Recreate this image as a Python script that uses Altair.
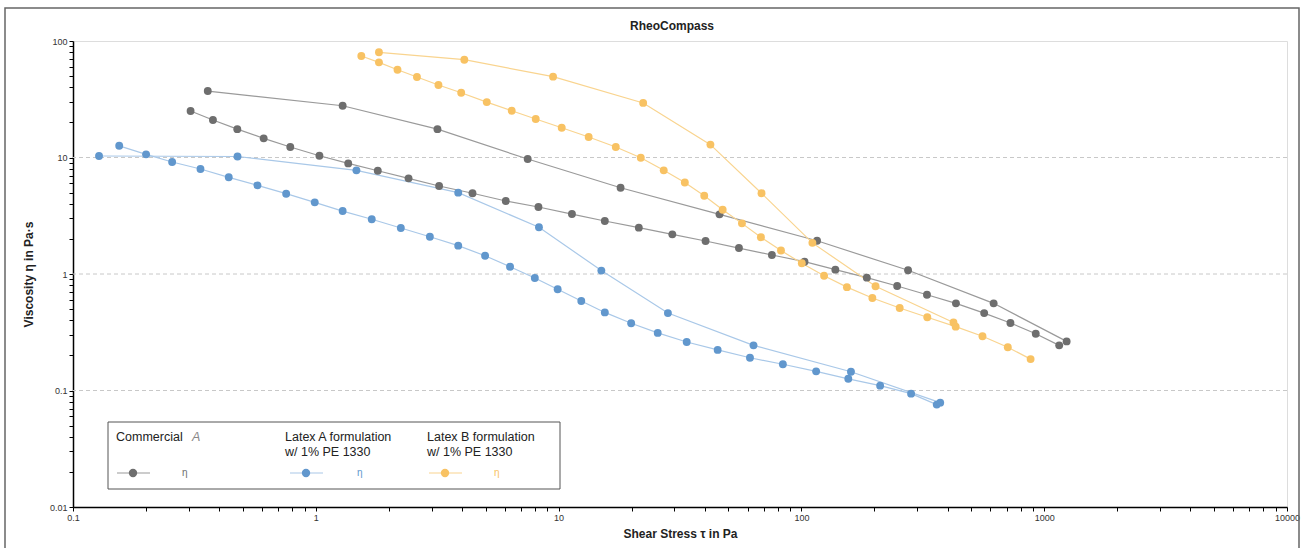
import altair as alt
import pandas as pd

# ---------------- data ----------------
# Commercial A
ca_main_x = [0.305, 0.377, 0.475, 0.61, 0.785, 1.035, 1.36, 1.8, 2.41, 3.22, 4.42, 6.06, 8.26, 11.35, 15.5,
             21.4, 29.4, 40.3, 55.3, 75.6, 103, 138, 186, 248, 329, 433, 566, 726, 923, 1153]
ca_main_y = [25.1, 21.0, 17.5, 14.6, 12.3, 10.35, 8.9, 7.7, 6.62, 5.69, 4.93, 4.23, 3.76, 3.27, 2.85,
             2.50, 2.19, 1.92, 1.67, 1.455, 1.275, 1.09, 0.93, 0.789, 0.664, 0.56, 0.462, 0.38, 0.307, 0.244]
ca_sec_x = [0.359, 1.29, 3.17, 7.46, 18.0, 46.0, 116, 275, 619, 1237]
ca_sec_y = [37.2, 27.8, 17.5, 9.7, 5.5, 3.25, 1.93, 1.076, 0.56, 0.264]

# Latex A formulation w/ 1% PE 1330
la_main_x = [0.155, 0.200, 0.256, 0.335, 0.438, 0.575, 0.755, 0.99, 1.29, 1.70, 2.24, 2.95, 3.86, 4.98, 6.31,
             7.98, 9.91, 12.4, 15.5, 19.9, 25.6, 33.7, 45.2, 61.4, 83.9, 115, 156, 211, 283, 361]
la_main_y = [12.6, 10.65, 9.15, 7.97, 6.76, 5.77, 4.89, 4.12, 3.47, 2.95, 2.48, 2.09, 1.75, 1.435, 1.155,
             0.924, 0.74, 0.586, 0.468, 0.378, 0.312, 0.261, 0.223, 0.191, 0.168, 0.146, 0.126, 0.11, 0.094, 0.0757]
la_sec_x = [0.128, 0.476, 1.47, 3.86, 8.30, 15.0, 28.2, 63.5, 160, 373]
la_sec_y = [10.3, 10.2, 7.76, 4.99, 2.52, 1.07, 0.462, 0.244, 0.145, 0.0786]

# Latex B formulation w/ 1% PE 1330
lb_main_x = [1.54, 1.82, 2.17, 2.61, 3.20, 3.97, 5.06, 6.41, 8.05, 10.3, 13.3, 17.2, 21.8, 27.1, 33.1,
             39.8, 47.4, 56.9, 68.1, 82.4, 100.4, 124, 154, 196, 254, 330, 432, 557, 708, 879]
lb_main_y = [74.3, 65.6, 56.7, 49.1, 41.9, 36.0, 29.9, 25.2, 21.4, 18.0, 15.0, 12.3, 9.96, 7.76, 6.10,
             4.69, 3.56, 2.72, 2.07, 1.59, 1.236, 0.966, 0.771, 0.622, 0.511, 0.425, 0.353, 0.292, 0.235, 0.186]
lb_sec_x = [1.82, 4.09, 9.49, 22.3, 42.2, 68.5, 111, 202, 423]
lb_sec_y = [80, 69.1, 49.4, 29.4, 12.9, 4.93, 1.85, 0.785, 0.384]

series_names = ["Commercial A", "Latex A", "Latex B"]
line_colors = ["#9a9a9a", "#a9c8e8", "#f9d48f"]
point_colors = ["#6e6e6e", "#6197cd", "#f8c263"]

x_decades = [0.1, 1, 10, 100, 1000, 10000]
y_decades = [0.01, 0.1, 1, 10, 100]
grid_y = [0.1, 1, 10]

# ---------------- build table ----------------
rows = []
for name, curves in [
    ("Commercial A", [(ca_main_x, ca_main_y), (ca_sec_x, ca_sec_y)]),
    ("Latex A", [(la_main_x, la_main_y), (la_sec_x, la_sec_y)]),
    ("Latex B", [(lb_main_x, lb_main_y), (lb_sec_x, lb_sec_y)]),
]:
    for ci, (xs, ys) in enumerate(curves):
        for i, (xv, yv) in enumerate(zip(xs, ys)):
            rows.append({"series": name, "curve": f"{name}-{ci}", "i": i, "tau": xv, "eta": yv})
df = pd.DataFrame(rows)
one = pd.DataFrame({"k": [0]})

x_ticks_all = [round(d * k, 6) for d in x_decades[:-1] for k in range(1, 10)] + [x_decades[-1]]
y_ticks_all = [round(d * k, 6) for d in y_decades[:-1] for k in range(1, 10)] + [y_decades[-1]]
dec_labels = "['0.01','0.1','1','10','100','1000','10000']"
label_expr = f"indexof({dec_labels}, datum.label) >= 0 ? datum.label : ''"

FONT = "Liberation Sans"
W, H = 1214, 466

xscale = alt.Scale(type="log", domain=[0.1, 10000], nice=False)
yscale = alt.Scale(type="log", domain=[0.01, 100], nice=False)

xaxis = alt.Axis(values=x_ticks_all, format="~g", labelExpr=label_expr, title="Shear Stress τ in Pa",
                 grid=False, tickSize=4, tickColor="black", domainColor="black", domainWidth=1.5,
                 labelFontSize=9, labelColor="#333", labelFlush=False, labelOverlap=False,
                 titleFontSize=12, titleFontWeight="bold", titleColor="#222", titlePadding=6)
yaxis = alt.Axis(values=y_ticks_all, format="~g", labelExpr=label_expr, title="Viscosity η in Pa·s",
                 grid=False, tickSize=4, tickColor="black", domainColor="black", domainWidth=1.5,
                 labelFontSize=9, labelColor="#333", labelOverlap=False, labelFlush=False,
                 titleFontSize=12, titleFontWeight="bold", titleColor="#222", titlePadding=14)

frame = alt.Chart(one).mark_rect(fill="transparent", stroke="#666", strokeWidth=1.5).encode(
    x=alt.value(-68), x2=alt.value(1226), y=alt.value(-33), y2=alt.value(520))

title = alt.Chart(one).mark_text(text="RheoCompass", fontSize=12, fontWeight="bold", color="#222",
                                 font=FONT, align="center", baseline="middle").encode(
    x=alt.value(599), y=alt.value(-15))

grid = alt.Chart(pd.DataFrame({"g": grid_y})).mark_rule(
    color="#c8c8c8", strokeDash=[4, 3], strokeWidth=1).encode(
    y=alt.Y("g:Q", scale=yscale, axis=yaxis))

base = alt.Chart(df)
lines = base.mark_line(strokeWidth=1.2).encode(
    x=alt.X("tau:Q", scale=xscale, axis=xaxis),
    y=alt.Y("eta:Q", scale=yscale, axis=yaxis),
    stroke=alt.Stroke("series:N", scale=alt.Scale(domain=series_names, range=line_colors), legend=None),
    detail="curve:N",
    order="i:Q",
)
points = base.mark_circle(size=62, opacity=1).encode(
    x=alt.X("tau:Q", scale=xscale, axis=xaxis),
    y=alt.Y("eta:Q", scale=yscale, axis=yaxis),
    fill=alt.Fill("series:N", scale=alt.Scale(domain=series_names, range=point_colors), legend=None),
)

# ---------------- manual legend box ----------------
leg_layers = [
    alt.Chart(one).mark_rect(fill="white", stroke="#555", strokeWidth=1).encode(
        x=alt.value(35), x2=alt.value(487), y=alt.value(381), y2=alt.value(448)),
]


def txt(s, x, y, size=12.5, color="#222", style="normal"):
    return alt.Chart(one).mark_text(text=s, align="left", baseline="alphabetic", fontSize=size,
                                    color=color, font=FONT, fontStyle=style).encode(
        x=alt.value(x), y=alt.value(y))


leg_layers += [
    txt("Commercial", 43, 400),
    txt("A", 119, 400, color="#888", style="italic"),
    txt("Latex A formulation", 212, 400),
    txt("w/ 1% PE 1330", 212, 415),
    txt("Latex B formulation", 354, 400),
    txt("w/ 1% PE 1330", 354, 415),
]
for (lx, tx), lc, pc in zip([(44, 109), (217, 284), (356, 421)], line_colors, point_colors):
    leg_layers.append(alt.Chart(one).mark_rule(color=lc, strokeWidth=1.2).encode(
        x=alt.value(lx), x2=alt.value(lx + 33), y=alt.value(432)))
    leg_layers.append(alt.Chart(one).mark_circle(color=pc, size=70, opacity=1).encode(
        x=alt.value(lx + 16), y=alt.value(432)))
    leg_layers.append(txt("η", tx, 435, size=10, color=pc))

chart = alt.layer(frame, title, grid, lines, points, *leg_layers).properties(
    width=W, height=H,
    padding={"left": 73, "top": 41, "right": 17, "bottom": 41},
    autosize=alt.AutoSizeParams(type="none"),
).configure_view(stroke="#8f8f8f", strokeWidth=2).configure(font=FONT)

chart.save("out.html", embed_options={"renderer": "svg", "actions": False})
